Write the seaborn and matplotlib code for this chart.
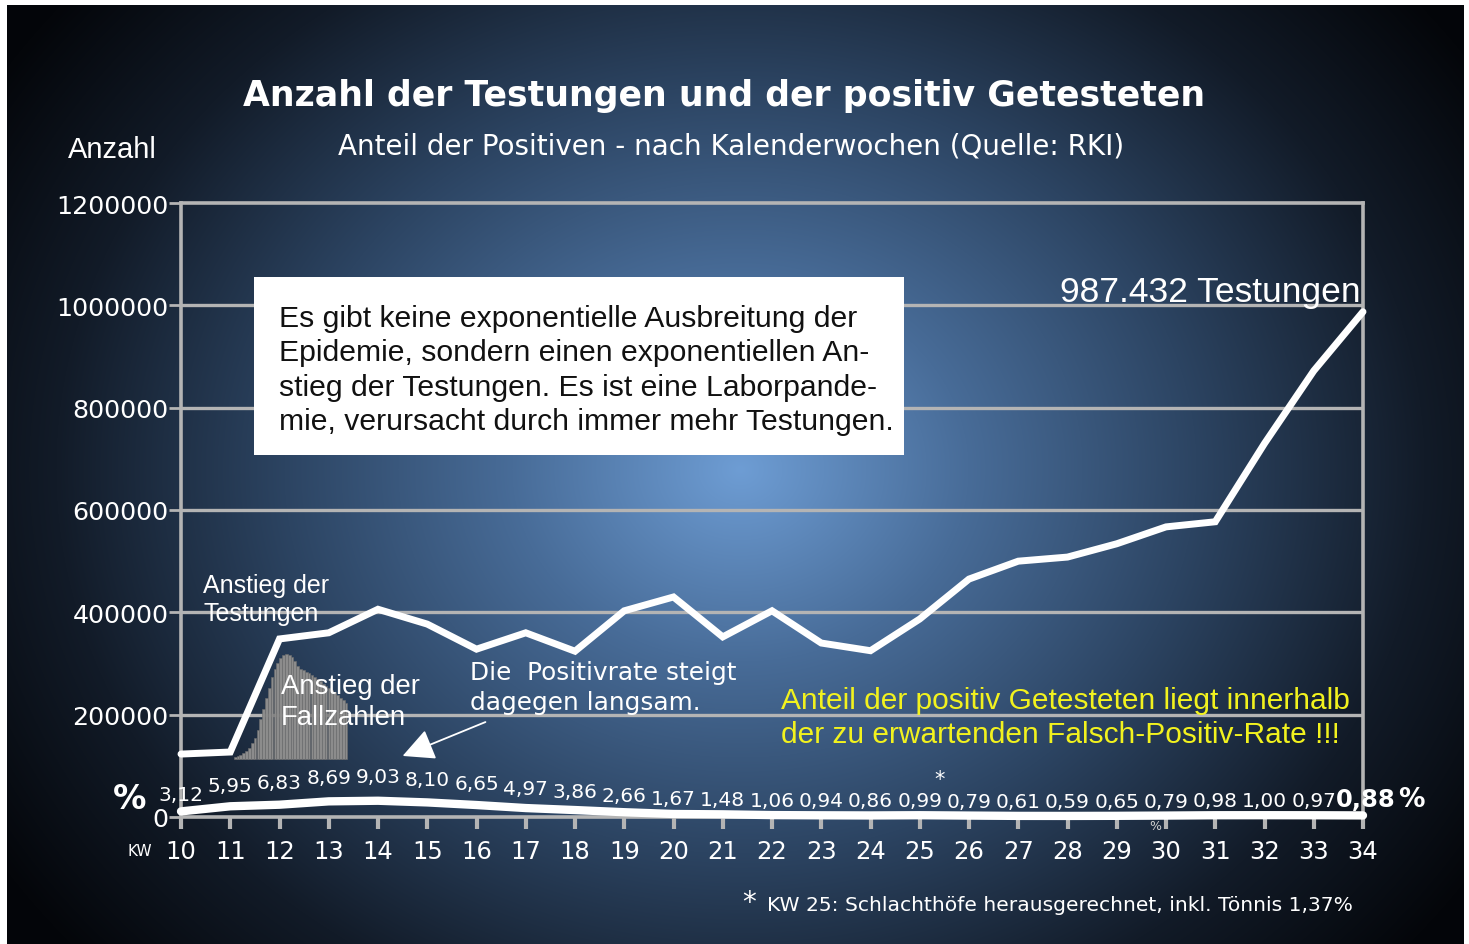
import numpy as np
import matplotlib
matplotlib.use("Agg")
import matplotlib.pyplot as plt
import seaborn as sns

# Kalenderwochen und Werte
kw = list(range(10, 35))
testungen = [123000, 127000, 348000, 360000, 406000, 377000, 328000, 360000, 324000,
             403000, 430000, 352000, 403000, 340000, 325000, 387000, 465000, 500000,
             508000, 534000, 567000, 577000, 730000, 872000, 987432]
positiv_rate = [3.12, 5.95, 6.83, 8.69, 9.03, 8.10, 6.65, 4.97, 3.86, 2.66, 1.67, 1.48,
                1.06, 0.94, 0.86, 0.99, 0.79, 0.61, 0.59, 0.65, 0.79, 0.98, 1.00, 0.97, 0.88]
# kleine Fallzahlen-Skizze (relative Höhe)
fallzahlen = [2, 3, 4, 6, 8, 11, 15, 20, 28, 38, 48, 58, 68, 78, 86, 92, 96, 99, 100, 99,
              97, 94, 89, 86, 85, 83, 82, 80, 78, 76, 75, 72, 70, 68, 66, 64, 61, 58, 56, 54]
y_ticks = [0, 200000, 400000, 600000, 800000, 1000000, 1200000]

W, H = 1469, 945
sns.set_theme(style="white")
plt.rcParams["font.family"] = ["DejaVu Sans"]


def px(x, y):
    return x / W, 1 - y / H


fig = plt.figure(figsize=(W / 100, H / 100), dpi=100, facecolor="white")

# radialer Hintergrund
bg = fig.add_axes([7 / W, 0, (1464 - 7) / W, 1 - 6 / H], zorder=-5)
gx, gy = np.meshgrid(np.arange(7, 1464), np.arange(6, 945))
r = np.sqrt(((gx - 740) / 760.0) ** 2 + ((gy - 470) / 640.0) ** 2)
stops = [0.0, 0.3, 0.6, 0.9, 1.15]
cols = np.array([[110, 157, 212], [72, 108, 152], [44, 68, 98], [18, 27, 40], [4, 6, 10]]) / 255
img = np.dstack([np.interp(r, stops, cols[:, i]) for i in range(3)])
bg.imshow(img, aspect="auto", extent=[0, 1, 0, 1])
bg.axis("off")

ax = fig.add_axes([181 / W, 1 - 818 / H, (1363 - 181) / W, (818 - 204) / H])
ax.set_facecolor("none")
grey = "#b4b4b4"

for v in y_ticks[1:-1]:
    ax.axhline(v, color=grey, lw=2.4, zorder=1)

x_bars = np.linspace(11.1, 13.35, len(fallzahlen))
ax.bar(x_bars, [v / 100 * 205000 for v in fallzahlen], width=0.056, bottom=113000,
       color="#8c8c8c", edgecolor="#6e6e6e", lw=0.4, zorder=2)

sns.lineplot(x=kw, y=testungen, ax=ax, color="white", lw=5, zorder=4)
ax.lines[-1].set_solid_joinstyle("miter")
ax.lines[-1].set_clip_on(False)

ax.set_xlim(10, 34)
ax.set_ylim(0, 1200000)
ax.set_yticks(y_ticks)
ax.set_yticklabels([str(v) for v in y_ticks])
ax.set_xticks(kw)
ax.set_xticklabels([str(k) for k in kw])
ax.tick_params(axis="y", colors=grey, labelcolor="white", labelsize=18.2,
               length=9, width=2, pad=0, left=True)
ax.tick_params(axis="x", colors=grey, labelcolor="white", labelsize=17.5,
               length=8.5, width=3, pad=7, bottom=True, direction="out")
for s in ax.spines.values():
    s.set_color(grey)
    s.set_linewidth(2.6)
ax.grid(False)

# Positivrate
ax2 = ax.twinx()
ax2.set_ylim(0, 341)
ax2.set_xlim(10, 34)
ax2.axis("off")
sns.lineplot(x=kw, y=positiv_rate, ax=ax2, color="white", lw=6, zorder=4)
ax2.lines[-1].set_clip_on(False)
for k, p in zip(kw, positiv_rate):
    last = k == kw[-1]
    lab = f"{p:.2f}".replace(".", ",")
    ax2.annotate(lab, xy=(k, p * 1.68), xytext=(2 if last else 0, 11 if last else 9.7),
                 textcoords="offset points", ha="center", va="center", color="white",
                 fontsize=17.5 if last else 14.5, fontweight="bold" if last else "normal",
                 annotation_clip=False)
ax2.annotate("%", xy=(kw[-1], positiv_rate[-1] * 1.68), xytext=(35, 11),
             textcoords="offset points", ha="center", va="center", color="white",
             fontsize=19, fontweight="bold", annotation_clip=False)
ax2.annotate("*", xy=(25, positiv_rate[15] * 1.68), xytext=(14, 25), textcoords="offset points",
             ha="center", va="center", color="white", fontsize=15, annotation_clip=False)

# Texte
fig.text(*px(724, 96), "Anzahl der Testungen und der positiv Getesteten", ha="center",
         va="center", color="white", fontsize=25, fontweight="bold")
fig.text(*px(731, 146), "Anteil der Positiven - nach Kalenderwochen (Quelle: RKI)",
         ha="center", va="center", color="white", fontsize=20)
fig.text(*px(68, 150), "Anzahl", ha="left", va="center", color="white", fontsize=21,
         family="Liberation Sans")
fig.text(*px(130, 800), "%", ha="center", va="center", color="white", fontsize=24,
         fontweight="bold")
fig.text(*px(140, 852), "KW", ha="center", va="center", color="white", fontsize=11)
fig.text(*px(1155, 826), "%", ha="center", va="center", color="#d0d0d0", fontsize=9)

box = plt.Rectangle(px(254, 456), (904 - 254) / W, (456 - 278) / H, transform=fig.transFigure,
                    facecolor="white", edgecolor="none", zorder=5)
fig.patches.append(box)
fig.text(*px(279, 305), "Es gibt keine exponentielle Ausbreitung der\n"
         "Epidemie, sondern einen exponentiellen An-\n"
         "stieg der Testungen. Es ist eine Laborpande-\n"
         "mie, verursacht durch immer mehr Testungen.",
         ha="left", va="top", color="#111111", fontsize=21.7, linespacing=1.29,
         family="Liberation Sans", zorder=6)

ax.annotate("987.432 Testungen", xy=(kw[-1], testungen[-1]), xytext=(-2, 8),
            textcoords="offset points", ha="right", va="baseline", color="white",
            fontsize=25.5, family="Liberation Sans", annotation_clip=False)
fig.text(*px(203, 600), "Anstieg der\nTestungen", ha="left", va="center", color="white",
         fontsize=18, family="Liberation Sans", linespacing=1.25, zorder=6)
fig.text(*px(281, 703), "Anstieg der\nFallzahlen", ha="left", va="center", color="white",
         fontsize=19.8, family="Liberation Sans", linespacing=1.25, zorder=6)
fig.text(*px(470, 688), "Die  Positivrate steigt\ndagegen langsam.", ha="left",
         va="center", color="white", fontsize=17.8, linespacing=1.3, zorder=6)
fig.text(*px(781, 718), "Anteil der positiv Getesteten liegt innerhalb\n"
         "der zu erwartenden Falsch-Positiv-Rate !!!", ha="left", va="center",
         color="#f2f21e", fontsize=21.5, family="Liberation Sans", linespacing=1.28, zorder=6)

arr = matplotlib.patches.FancyArrowPatch(px(488, 722), px(400, 758), transform=fig.transFigure,
                                         arrowstyle="-|>,head_length=1.4,head_width=0.7",
                                         mutation_scale=14, color="white", lw=1.3)
fig.patches.append(arr)

fig.text(*px(749, 903), "*", ha="center", va="center", color="white", fontsize=20)
fig.text(*px(767, 906), "KW 25: Schlachthöfe herausgerechnet, inkl. Tönnis 1,37%",
         ha="left", va="center", color="white", fontsize=14.6)

fig.savefig("out.png", dpi=100, facecolor="white")
